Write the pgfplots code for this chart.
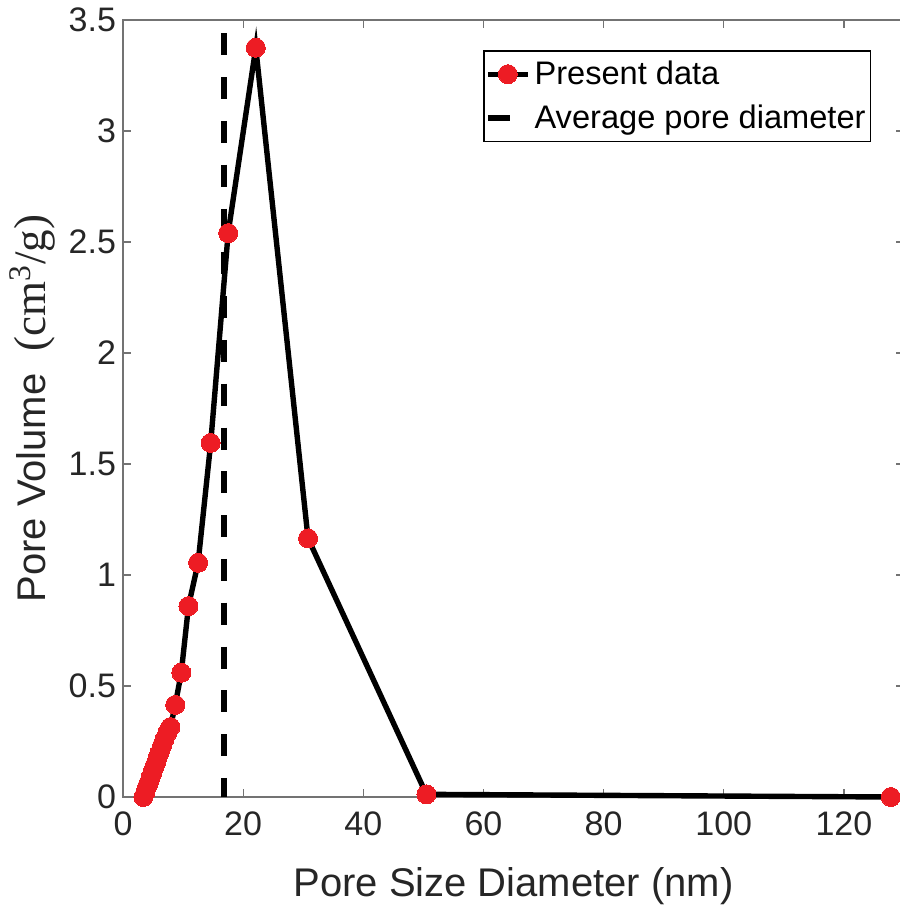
\documentclass[border=0pt]{standalone}
\usepackage{pgfplots}
\pgfplotsset{compat=1.18}
\usepackage{fontspec}
\setmainfont{Liberation Sans}
\newfontfamily\seriffont{Liberation Serif}
\definecolor{ptred}{RGB}{237,28,36}
\definecolor{axgray}{RGB}{38,38,38}

\begin{document}
\begin{tikzpicture}
\begin{axis}[
    scale only axis,
    width=390.5pt, height=388.5pt,
    xmin=0, xmax=130, ymin=0, ymax=3.5,
    xtick={0,20,...,120},
    ytick={0,0.5,...,3.5},
    tick align=inside,
    major tick length=4pt,
    axis line style={draw=black!55, line width=0.6pt},
    tick style={black!55, line width=0.6pt},
    tick label style={font=\fontsize{17}{20}\selectfont, text=axgray},
    xticklabel style={yshift=-4pt},
    /pgf/number format/assume math mode=true,
    xlabel={Pore Size Diameter (nm)},
    ylabel={Pore Volume \ {\seriffont\fontsize{22.5}{26}\selectfont (cm\textsuperscript{3}/g)}},
    label style={font=\fontsize{20}{24}\selectfont, text=axgray},
    xlabel style={at={(axis description cs:0.5,-0.115)}, anchor=center},
    ylabel style={at={(axis description cs:-0.1165,0.5)}, anchor=center},
    clip=false,
    reverse legend,
    legend cell align=left,
    legend image code/.code={\draw[mark repeat=2,mark phase=2,#1] plot coordinates {(0pt,0pt) (10pt,0pt) (20pt,0pt)};},
    legend style={at={(rel axis cs:0.958,0.961)}, anchor=north east,
        draw=black, line width=0.6pt, font=\fontsize{16.3}{19}\selectfont,
        inner xsep=0.5pt, inner ysep=3pt, row sep=4.5pt},
]
\coordinate (bl) at (rel axis cs:0,0);

% average pore diameter
\addplot[black, line width=2.75pt, dash pattern=on 11pt off 10.9pt]
    coordinates {(16.8,3.44) (16.8,0)};
\addlegendentry{Average pore diameter}

% pore size distribution
\addplot[black, line width=2.7pt, mark=*, mark size=4.75pt,
    mark options={draw=ptred, fill=ptred, line width=0pt}] coordinates {
    (3.4,0.0) (3.7,0.02) (4.0,0.045) (4.3,0.065) (4.6,0.09) (4.9,0.11)
    (5.2,0.135) (5.5,0.155) (5.8,0.18) (6.1,0.2) (6.5,0.23) (6.9,0.26)
    (7.4,0.29) (7.9,0.315) (8.7,0.415) (9.7,0.56) (10.9,0.86) (12.5,1.055)
    (14.6,1.595) (17.5,2.54) (22.1,3.375) (30.8,1.165) (50.5,0.012) (127.8,0.0)
};
\addlegendentry{Present data}
\end{axis}
\pgfresetboundingbox
\useasboundingbox ([shift={(-61.5pt,-56pt)}]bl) rectangle ([shift={(388pt,398.5pt)}]bl);
\end{tikzpicture}
\end{document}
